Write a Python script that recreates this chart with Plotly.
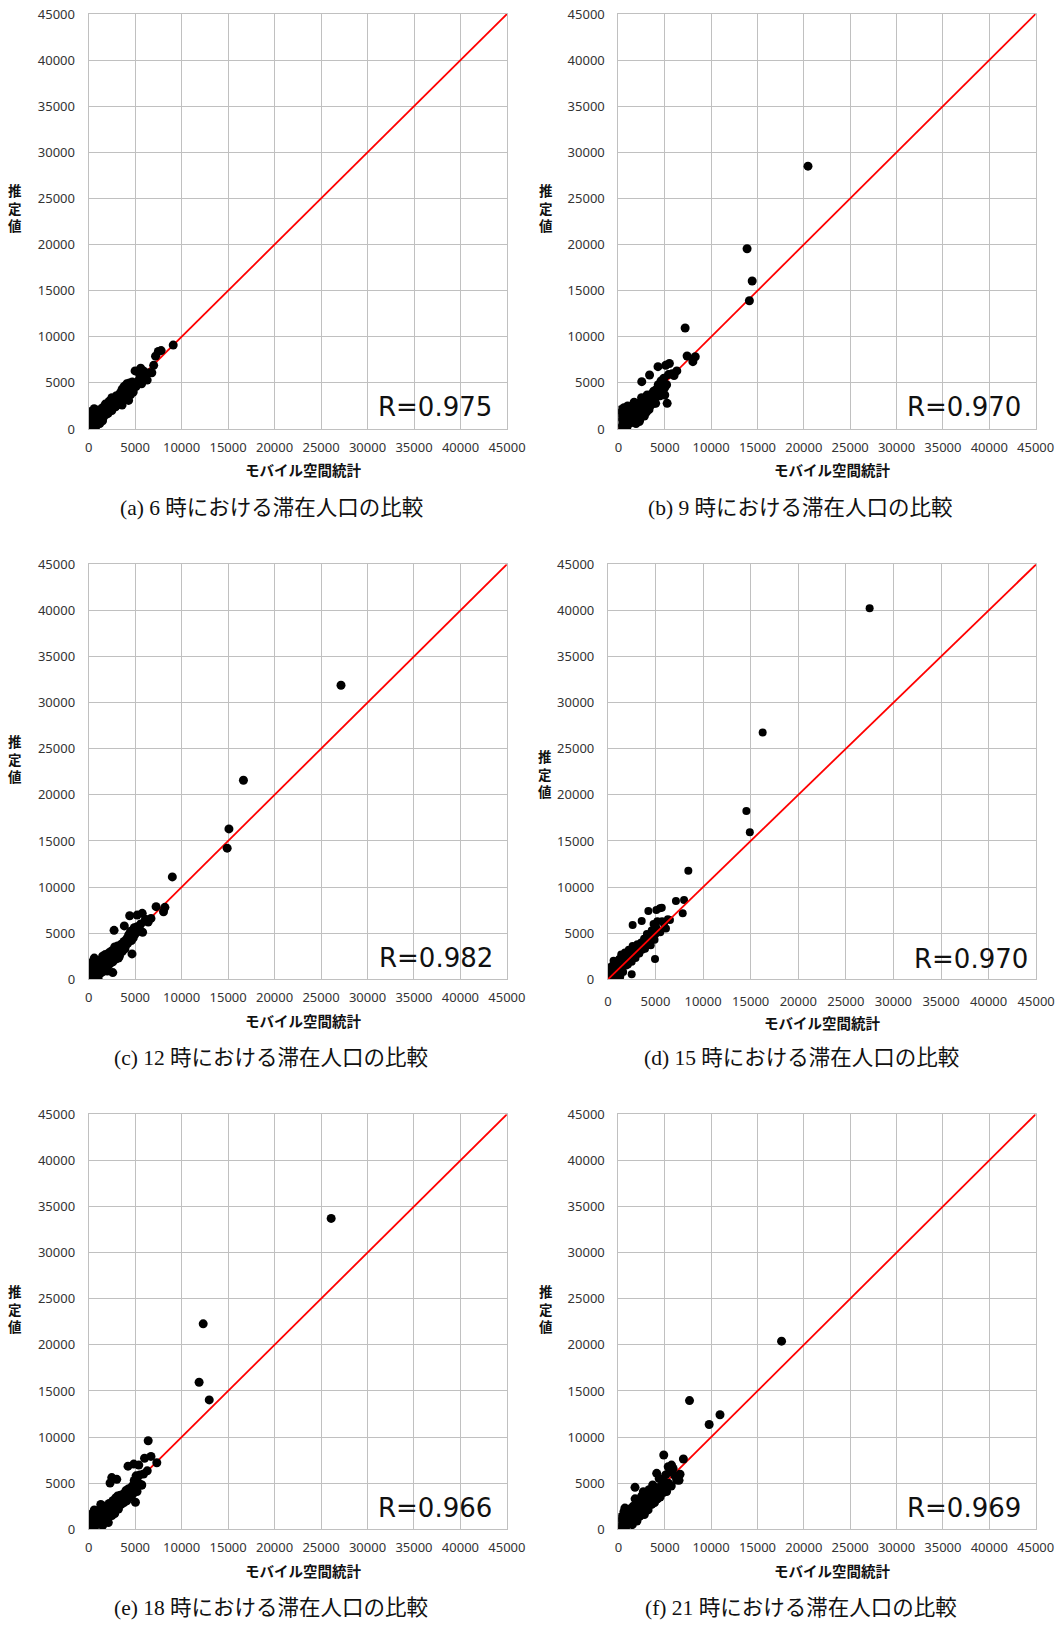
import plotly.graph_objects as go

# ---------------- data ----------------
ticks = [0, 5000, 10000, 15000, 20000, 25000, 30000, 35000, 40000, 45000]
tick_labels = ["0", "5000", "10000", "15000", "20000", "25000", "30000", "35000", "40000", "45000"]
diag = [0, 45000]

x_title = "モバイル空間統計"
y_title = "推定値"

captions = ["(a) 6 時における滞在人口の比較", "(b) 9 時における滞在人口の比較",
            "(c) 12 時における滞在人口の比較", "(d) 15 時における滞在人口の比較",
            "(e) 18 時における滞在人口の比較", "(f) 21 時における滞在人口の比較"]
r_labels = ["R=0.975", "R=0.970", "R=0.982", "R=0.970", "R=0.966", "R=0.969"]

# (a) 6時
a_x = [0, 200, 400, 100, 300, 600, 800, 500, 700, 900,
       1000, 1100, 1200, 1300, 1400, 1500, 1600, 1700, 1800, 1900,
       2000, 2100, 2200, 2300, 2400, 2500, 2600, 2700, 2800, 2900,
       3000, 3100, 3200, 3300, 3400, 3500, 3600, 3700, 3800, 3900,
       4000, 4100, 4200, 4300, 4400, 4500, 4600, 4700, 4800, 4900,
       5000, 5100, 5200, 5400, 5500, 5700, 5900, 6100, 6300, 6500,
       6800, 7000, 7200, 7500, 7800, 9100, 600, 1200, 2500, 3600,
       150, 350, 250, 450, 50, 700, 1000, 1500, 4300, 5600]
a_y = [100, 300, 0, 900, 1300, 600, 300, 1600, 1100, 700,
       1900, 1300, 2100, 1000, 1700, 2300, 1300, 2000, 2700, 1600,
       2300, 1700, 3000, 2200, 2700, 2000, 3200, 2500, 3000, 2400,
       3600, 2900, 3300, 2700, 3900, 3100, 4300, 3300, 4600, 3700,
       3400, 4900, 4100, 4500, 5000, 3700, 4400, 5100, 4000, 4700,
       6300, 4600, 5000, 5300, 5900, 4900, 6300, 5600, 5300, 6100,
       6100, 6900, 7900, 8400, 8500, 9100, 2200, 600, 3400, 2600,
       500, 500, 1900, 1200, 1500, 1800, 600, 900, 3100, 6600]

# (b) 9時
b_x = [0, 100, 300, 200, 400, 600, 500, 800, 700, 900,
       1000, 1100, 1200, 1300, 1400, 1500, 1600, 1700, 1800, 1900,
       2000, 2100, 2200, 2300, 2400, 2500, 2600, 2700, 2800, 2900,
       3000, 3100, 3200, 3300, 3400, 3500, 3600, 3700, 3800, 3900,
       4000, 4100, 4200, 4300, 4400, 4500, 4600, 4700, 4800, 4900,
       5000, 5200, 5400, 5500, 5800, 6000, 6300, 2260, 4020, 5260,
       20450, 13880, 14430, 14130, 7200, 7410, 8290, 8030, 4270, 3360,
       2520, 5000, 5100, 150, 600, 1400, 2000, 3000, 500, 250]
b_y = [0, 700, 200, 1300, 1900, 300, 1100, 800, 1700, 0,
       2500, 1200, 600, 2000, 1500, 800, 2400, 2900, 1300, 600,
       2100, 1500, 2800, 1000, 2300, 3400, 1800, 2700, 1400, 3200,
       2300, 3700, 2900, 2100, 3300, 2600, 3800, 3000, 4100, 2800,
       3400, 4300, 3800, 4800, 4200, 3600, 5200, 4600, 4000, 5500,
       4500, 4800, 5900, 7100, 6000, 5800, 6300, 800, 2780, 2780,
       28500, 19550, 16050, 13910, 10950, 7910, 7840, 7300, 6760, 5850,
       5130, 3690, 6900, 1700, 2300, 2200, 900, 1800, 400, 2100]

# (c) 12時
c_x = [0, 100, 300, 200, 400, 600, 500, 800, 700, 900,
       1000, 1100, 1200, 1300, 1400, 1500, 1600, 1700, 1800, 1900,
       2000, 2100, 2200, 2300, 2400, 2500, 2600, 2700, 2800, 2900,
       3000, 3100, 3200, 3300, 3400, 3500, 3600, 3700, 3800, 3900,
       4000, 4100, 4200, 4300, 4400, 4500, 4600, 4700, 4800, 4900,
       5000, 5200, 5400, 5600, 5800, 6100, 6400, 6700, 4660, 2590,
       27150, 16650, 15090, 14900, 9000, 7250, 8200, 8050, 4410, 2730,
       3830, 5210, 5760, 1020, 150, 600, 1500, 2000, 3200, 250]
c_y = [0, 600, 200, 1100, 1500, 400, 900, 1200, 2000, 300,
       1900, 1200, 600, 2100, 1500, 800, 2200, 1300, 2700, 1000,
       2200, 1500, 2900, 1700, 2400, 3100, 1900, 2600, 3500, 2200,
       2800, 3600, 3100, 2500, 3400, 3800, 3000, 3500, 4100, 3300,
       3700, 4400, 3900, 4800, 4300, 5200, 4200, 5000, 4500, 5600,
       4900, 5700, 5200, 6000, 5100, 6500, 6200, 6600, 2750, 730,
       31880, 21580, 16310, 14220, 11100, 7880, 7800, 7330, 6890, 5310,
       5790, 6960, 7150, 0, 1300, 2300, 2500, 900, 2300, 1800]

# (d) 15時
d_x = [0, 100, 200, 300, 400, 500, 600, 700, 800, 900,
       1000, 1100, 1200, 1300, 1400, 1500, 1600, 1700, 1800, 1900,
       2000, 2100, 2200, 2300, 2400, 2500, 2600, 2700, 2800, 2900,
       3000, 3100, 3200, 3300, 3400, 3500, 3600, 3700, 3800, 3900,
       4000, 4100, 4200, 4300, 4400, 4500, 4600, 4700, 4800, 4900,
       5000, 5100, 5200, 5400, 5500, 5700, 5900, 6100, 6300, 4950,
       27500, 16260, 14550, 14910, 8450, 7150, 8000, 7860, 4250, 5470,
       3550, 2600, 6520, 2500, 5090, 5660, 150, 500, 1300, 600]
d_y = [0, 500, 200, 1000, 300, 1500, 600, 1100, 300, 1700,
       800, 1400, 2200, 1000, 2700, 1400, 800, 2000, 2900, 1500,
       2400, 1600, 3200, 2000, 2700, 1900, 3600, 2500, 3000, 2300,
       2700, 3800, 3100, 2800, 3500, 4000, 3200, 3700, 4400, 3300,
       3700, 4900, 4200, 3800, 4600, 3700, 5300, 4500, 6000, 4300,
       4900, 5600, 6300, 5200, 5100, 6300, 6000, 5500, 6500, 2200,
       40230, 26750, 18250, 15940, 11780, 8500, 8600, 7160, 7410, 7700,
       6320, 5890, 6430, 540, 7510, 7770, 1300, 900, 300, 2000]

# (e) 18時
e_x = [0, 100, 200, 300, 400, 500, 600, 700, 800, 900,
       1000, 1100, 1200, 1300, 1400, 1500, 1600, 1700, 1800, 1900,
       2000, 2100, 2200, 2300, 2400, 2500, 2600, 2700, 2800, 2900,
       3000, 3100, 3200, 3300, 3400, 3500, 3600, 3700, 3800, 3900,
       4000, 4100, 4200, 4300, 4400, 4500, 4600, 4700, 4800, 4900,
       5000, 5100, 5200, 5400, 5500, 5700, 5900, 0, 600, 200,
       26090, 12320, 11880, 12970, 6400, 6700, 7330, 6010, 6300, 2480,
       3020, 2300, 4230, 4850, 5390, 5030, 2110, 5160, 5700, 1300]
e_y = [0, 600, 200, 1000, 1500, 300, 800, 1300, 2000, 500,
       1000, 1700, 600, 2100, 1300, 400, 1800, 900, 2500, 1400,
       2200, 1200, 2800, 1800, 2400, 1500, 3100, 2300, 1700, 3400,
       2600, 3600, 2200, 3000, 3700, 2700, 3300, 3800, 2900, 3500,
       4200, 3100, 3800, 4400, 3500, 4100, 3600, 4700, 3900, 5300,
       4600, 5800, 4100, 5000, 5900, 4800, 6000, 1600, 2100, 1200,
       33710, 22280, 15940, 14030, 9600, 7900, 7220, 7700, 6340, 5610,
       5420, 5020, 6850, 7070, 6960, 2930, 730, 5350, 4800, 2700]

# (f) 21時
f_x = [0, 100, 200, 300, 400, 500, 600, 700, 800, 900,
       1000, 1100, 1200, 1300, 1400, 1500, 1600, 1700, 1800, 1900,
       2000, 2100, 2200, 2300, 2400, 2500, 2600, 2700, 2800, 2900,
       3000, 3100, 3200, 3300, 3400, 3500, 3600, 3700, 3800, 3900,
       4000, 4100, 4200, 4300, 4400, 4500, 4600, 4700, 4800, 4900,
       5000, 5100, 5200, 5400, 5500, 5700, 5900, 6100, 4200, 3700,
       17600, 7670, 10960, 9790, 4890, 7010, 6540, 6650, 5370, 5730,
       1790, 2690, 4130, 6290, 6400, 5750, 150, 700, 1300, 2000]
f_y = [0, 500, 200, 900, 1300, 300, 1900, 700, 1100, 400,
       1600, 1000, 2200, 700, 1700, 500, 2500, 1300, 3300, 1000,
       2200, 1600, 2900, 1400, 2500, 3600, 2000, 3000, 1600, 3400,
       2500, 3800, 2100, 4300, 3100, 3700, 2700, 4100, 3300, 2900,
       3600, 4500, 3300, 4000, 5500, 3500, 4700, 4200, 5300, 4000,
       4500, 5900, 4100, 5000, 6200, 4700, 6600, 5800, 3300, 4800,
       20400, 13960, 12420, 11360, 8060, 7620, 5310, 5970, 6780, 6960,
       4550, 4080, 6070, 5350, 5700, 6610, 1300, 2300, 1900, 900]

series_x = [a_x, b_x, c_x, d_x, e_x, f_x]
series_y = [a_y, b_y, c_y, d_y, e_y, f_y]

# ---------------- layout / style ----------------
W, H = 1062, 1625
# plot areas in pixels: (left, right, top, bottom)
areas = [(88.6, 507.0, 14.0, 429.0), (618.4, 1035.6, 14.0, 429.0),
         (88.7, 506.9, 564.3, 979.3), (607.9, 1036.2, 564.3, 979.3),
         (88.7, 506.9, 1114.3, 1529.3), (618.4, 1035.6, 1114.3, 1529.3)]
marker_sizes = [9, 9, 9, 8, 9, 9]
line_on_top = [False, False, False, True, False, False]
r_pos = [(0.970, 0.052), (0.969, 0.052), (0.972, 0.051),
         (0.985, 0.049), (0.970, 0.051), (0.969, 0.051)]
xt_pos = [(0.512, -0.097), (0.513, -0.097), (0.513, -0.099),
          (0.500, -0.104), (0.513, -0.099), (0.513, -0.099)]
yt_pos = [(15, 0.533), (546, 0.533), (15, 0.533),
          (545, 0.497), (15, 0.533), (546, 0.533)]
cap_pos = [(271, 508), (800, 508), (271, 1058), (801, 1058), (271, 1608), (801, 1608)]

GRID = "#c0c0c0"
TICKFONT = dict(family="Noto Sans, DejaVu Sans, sans-serif", size=13, color="#333333")
JPBOLD = dict(family="Noto Sans CJK JP, sans-serif", size=14.5, color="#111111")

fig = go.Figure()
layout = dict(width=W, height=H,
              margin=dict(l=0, r=0, t=0, b=0, pad=0, autoexpand=False),
              paper_bgcolor="white", plot_bgcolor="white", showlegend=False)
annotations = []

for i in range(6):
    n = "" if i == 0 else str(i + 1)
    xa, ya = "x" + n, "y" + n
    l, r, t, b = areas[i]
    layout["xaxis" + n] = dict(
        domain=[l / W, r / W], anchor=ya, range=[0, 45000], automargin=False,
        tickmode="array", tickvals=ticks, ticktext=tick_labels,
        showgrid=True, gridcolor=GRID, gridwidth=1, zeroline=False,
        showline=True, mirror=True, linecolor=GRID, linewidth=1,
        ticks="outside", ticklen=6 if i != 3 else 10, tickcolor="rgba(0,0,0,0)",
        tickfont=TICKFONT, fixedrange=True)
    layout["yaxis" + n] = dict(
        domain=[1 - b / H, 1 - t / H], anchor=xa, range=[0, 45000], automargin=False,
        tickmode="array", tickvals=ticks, ticktext=tick_labels,
        showgrid=True, gridcolor=GRID, gridwidth=1, zeroline=False,
        showline=True, mirror=True, linecolor=GRID, linewidth=1,
        ticks="outside", ticklen=10, tickcolor="rgba(0,0,0,0)",
        tickfont=TICKFONT, fixedrange=True)

    line = go.Scatter(x=diag, y=diag, mode="lines", xaxis=xa, yaxis=ya,
                      line=dict(color="#ff0000", width=1.8), hoverinfo="skip")
    pts = go.Scatter(x=series_x[i], y=series_y[i], mode="markers", xaxis=xa, yaxis=ya,
                     marker=dict(color="black", size=marker_sizes[i], line=dict(width=0)))
    if line_on_top[i]:
        fig.add_trace(pts)
        fig.add_trace(line)
    else:
        fig.add_trace(line)
        fig.add_trace(pts)

    dom_x, dom_y = xa + " domain", ya + " domain"
    # R label
    annotations.append(dict(text=r_labels[i], xref=dom_x, yref=dom_y,
                            x=r_pos[i][0], y=r_pos[i][1], xanchor="right", yanchor="middle",
                            showarrow=False,
                            font=dict(family="DejaVu Sans, sans-serif", size=26, color="#111111")))
    # x axis title
    annotations.append(dict(text="<b>" + x_title + "</b>", xref=dom_x, yref=dom_y,
                            x=xt_pos[i][0], y=xt_pos[i][1], xanchor="center", yanchor="middle",
                            showarrow=False, font=JPBOLD))
    # y axis title (stacked vertically)
    annotations.append(dict(text="<b>" + "<br>".join(list(y_title)) + "</b>",
                            xref="paper", yref=dom_y,
                            x=yt_pos[i][0] / W, y=yt_pos[i][1], xanchor="center", yanchor="middle",
                            showarrow=False, font=dict(family="Noto Sans CJK JP, sans-serif",
                                                       size=13.5, color="#111111")))
    # caption
    annotations.append(dict(text=captions[i], xref="paper", yref="paper",
                            x=cap_pos[i][0] / W, y=1 - cap_pos[i][1] / H,
                            xanchor="center", yanchor="middle", showarrow=False,
                            font=dict(family="Liberation Serif, Noto Sans CJK JP, serif",
                                      size=21.5, color="#111111")))

layout["annotations"] = annotations
fig.update_layout(**layout)
fig.write_html("out.html", config={"displayModeBar": False})
